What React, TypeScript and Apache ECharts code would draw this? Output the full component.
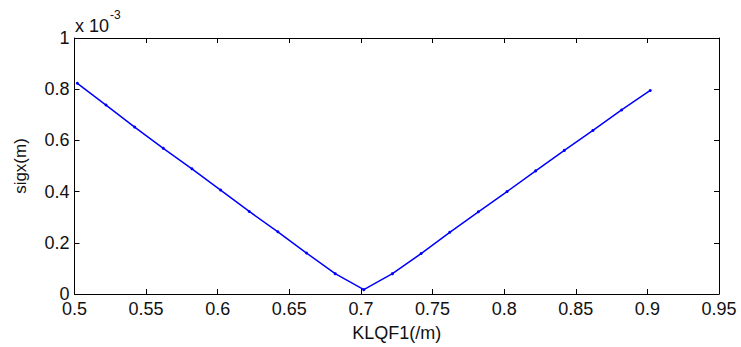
import React, { useEffect, useRef } from "react";
import * as echarts from "echarts";

const klqf1Values = [
  0.502, 0.522, 0.542, 0.562, 0.582, 0.602, 0.622, 0.642, 0.662, 0.682, 0.702,
  0.722, 0.742, 0.762, 0.782, 0.802, 0.822, 0.842, 0.862, 0.882, 0.902,
];
const sigxValues = [
  0.823, 0.738, 0.652, 0.569, 0.489, 0.406, 0.3225, 0.243, 0.16, 0.0795, 0.017,
  0.0795, 0.158, 0.241, 0.321, 0.4, 0.481, 0.561, 0.639, 0.719, 0.795,
];
const xAxisMin = 0.5;
const xAxisMax = 0.95;
const xAxisStep = 0.05;
const yAxisMin = 0;
const yAxisMax = 1;
const yAxisStep = 0.2;
const xLabel = "KLQF1(/m)";
const yLabel = "sigx(m)";

const FONT = "Liberation Sans, Arial, sans-serif";

export default function App() {
  const ref = useRef<HTMLDivElement>(null);
  useEffect(() => {
    if (!ref.current) return;
    const chart = echarts.init(ref.current, undefined, { renderer: "svg" });
    const axisCommon = {
      axisLine: { show: true, onZero: false, lineStyle: { color: "#000", width: 1 } },
      axisTick: { show: true, inside: true, length: 5, lineStyle: { color: "#000", width: 1 } },
      splitLine: { show: false },
    };
    const data = klqf1Values.map((x, i) => [x, sigxValues[i]]);
    chart.setOption({
      animation: false,
      backgroundColor: "#fff",
      grid: { left: 74.5, right: 22, top: 38, bottom: 51.5, containLabel: false },
      xAxis: [
        {
          type: "value",
          min: xAxisMin,
          max: xAxisMax,
          interval: xAxisStep,
          position: "bottom",
          ...axisCommon,
          axisLabel: {
            show: true,
            color: "#111",
            fontFamily: FONT,
            fontSize: 18,
            margin: 6,
            showMinLabel: true,
            showMaxLabel: true,
            formatter: (v: number) => String(+v.toFixed(2)),
          },
          name: xLabel,
          nameLocation: "middle",
          nameGap: 30,
          nameTextStyle: { color: "#111", fontFamily: FONT, fontSize: 18 },
        },
        {
          type: "value",
          min: xAxisMin,
          max: xAxisMax,
          interval: xAxisStep,
          position: "top",
          ...axisCommon,
          axisLabel: { show: false },
        },
      ],
      yAxis: [
        {
          type: "value",
          min: yAxisMin,
          max: yAxisMax,
          interval: yAxisStep,
          position: "left",
          ...axisCommon,
          axisLabel: {
            show: true,
            color: "#111",
            fontFamily: FONT,
            fontSize: 18,
            margin: 5,
            formatter: (v: number) => String(+v.toFixed(1)),
          },
          name: yLabel,
          nameLocation: "middle",
          nameGap: 46,
          nameRotate: 90,
          nameTextStyle: { color: "#111", fontFamily: FONT, fontSize: 17 },
        },
        {
          type: "value",
          min: yAxisMin,
          max: yAxisMax,
          interval: yAxisStep,
          position: "right",
          ...axisCommon,
          axisLabel: { show: false },
        },
      ],
      graphic: [
        {
          type: "text",
          left: 75,
          top: 9,
          style: {
            text: "{b|x 10}{s|-3}",
            rich: {
              b: { fontFamily: FONT, fontSize: 18, fill: "#111", padding: [8, 0, 0, 0] },
              s: { fontFamily: FONT, fontSize: 12, fill: "#111", verticalAlign: "top", padding: [0, 0, 10, 1] },
            },
          },
        },
      ],
      series: [
        {
          type: "line",
          xAxisIndex: 0,
          yAxisIndex: 0,
          data,
          symbol: "circle",
          symbolSize: 3,
          showSymbol: true,
          lineStyle: { color: "#0000ff", width: 1.5 },
          itemStyle: { color: "#0000ff" },
        },
      ],
    });
    return () => chart.dispose();
  }, []);
  return (
    <div
      ref={ref}
      style={{ position: "fixed", left: 0, top: 0, width: 741, height: 347 }}
    />
  );
}
